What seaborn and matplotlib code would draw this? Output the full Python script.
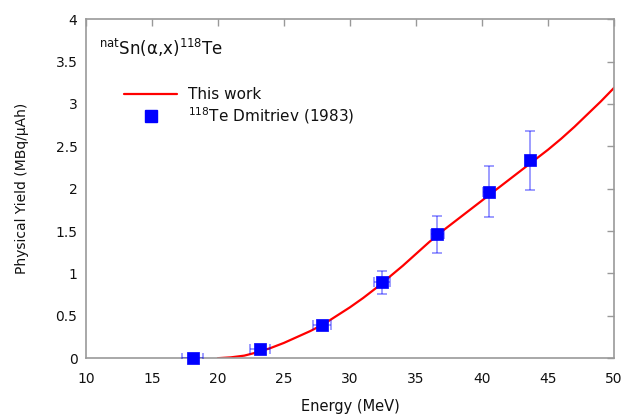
import numpy as np
import pandas as pd
import matplotlib
matplotlib.use('Agg')
import matplotlib.pyplot as plt
from matplotlib.lines import Line2D
from matplotlib.ticker import FuncFormatter
import seaborn as sns

# fitted yield curve (this work)
fit_energy = [20, 21, 22, 23, 24, 25, 26, 27, 28, 29, 30, 31, 32, 33, 34, 35,
              36, 37, 38, 39, 40, 41, 42, 43, 44, 45, 46, 47, 48, 49, 50]
fit_yield = [0.0, 0.01, 0.03, 0.07, 0.12, 0.18, 0.25, 0.32, 0.40, 0.50, 0.60,
             0.71, 0.83, 0.96, 1.09, 1.23, 1.37, 1.50, 1.62, 1.74, 1.86, 1.98,
             2.10, 2.22, 2.34, 2.46, 2.59, 2.73, 2.88, 3.03, 3.19]

# Dmitriev (1983) points
exp_energy = [18.1, 23.2, 27.9, 32.4, 36.6, 40.5, 43.6]
exp_yield = [0.0, 0.11, 0.39, 0.895, 1.46, 1.965, 2.335]
exp_yerr = [0.0, 0.02, 0.03, 0.135, 0.22, 0.305, 0.35]
exp_xerr = [0.8, 0.75, 0.7, 0.6, 0.5, 0.4, 0.3]

xticks = [10, 15, 20, 25, 30, 35, 40, 45, 50]
yticks = [0, 0.5, 1, 1.5, 2, 2.5, 3, 3.5, 4]

fit_df = pd.DataFrame({'Energy': fit_energy, 'Yield': fit_yield})
exp_df = pd.DataFrame({'Energy': exp_energy, 'Yield': exp_yield})

sns.set_style('white')
plt.rcParams['font.family'] = ['DejaVu Sans']
plt.rcParams['mathtext.default'] = 'regular'
plt.rcParams['text.color'] = '#111111'
plt.rcParams['axes.labelcolor'] = '#111111'
plt.rcParams['xtick.labelcolor'] = '#111111'
plt.rcParams['ytick.labelcolor'] = '#111111'

fig, ax = plt.subplots(figsize=(6.26, 4.16), dpi=100)
fig.subplots_adjust(left=0.137, right=0.981, top=0.954, bottom=0.139)

sns.lineplot(data=fit_df, x='Energy', y='Yield', color='#ff0000', linewidth=1.6, ax=ax, zorder=2)
ax.errorbar(exp_energy, exp_yield, xerr=exp_xerr, yerr=exp_yerr, fmt='none',
            ecolor='#0000ff', alpha=0.45, elinewidth=1.2, capsize=3.5, capthick=1.2, zorder=3)
sns.scatterplot(data=exp_df, x='Energy', y='Yield', marker='s', s=70, color='#0000ff',
                edgecolor='#0000ff', linewidth=0.5, ax=ax, zorder=4, clip_on=False)

ax.set_xlim(10, 50)
ax.set_ylim(0, 4)
ax.set_xticks(xticks)
ax.set_yticks(yticks)
ax.yaxis.set_major_formatter(FuncFormatter(lambda v, p: '%g' % v))
ax.tick_params(direction='in', length=5, width=1, color='#999999', labelsize=10,
               top=True, right=True)
ax.tick_params(axis='x', pad=10)
ax.tick_params(axis='y', pad=6)
for sp in ax.spines.values():
    sp.set_color('#999999')
    sp.set_linewidth(1.2)

ax.set_xlabel('Energy (MeV)', fontsize=10.5, labelpad=9)
ax.set_ylabel('Physical Yield (MBq/\u03bcAh)', fontsize=10, labelpad=19)

ax.text(0.026, 0.915, '$^{nat}$Sn(\u03b1,x)$^{118}$Te',
        transform=ax.transAxes, fontsize=12, va='center', ha='left')

handles = [Line2D([0], [0], color='#ff0000', linewidth=1.6),
           Line2D([0], [0], color='#0000ff', marker='s', markersize=8, linestyle='none')]
labels = ['This work', r'$^{118}$Te Dmitriev (1983)']
ax.legend(handles, labels, loc='upper left', bbox_to_anchor=(0.072, 0.80), frameon=False,
          fontsize=11, handlelength=3.5, handletextpad=0.7, labelspacing=0.2,
          borderpad=0, borderaxespad=0)

fig.savefig('out.png', dpi=100)
